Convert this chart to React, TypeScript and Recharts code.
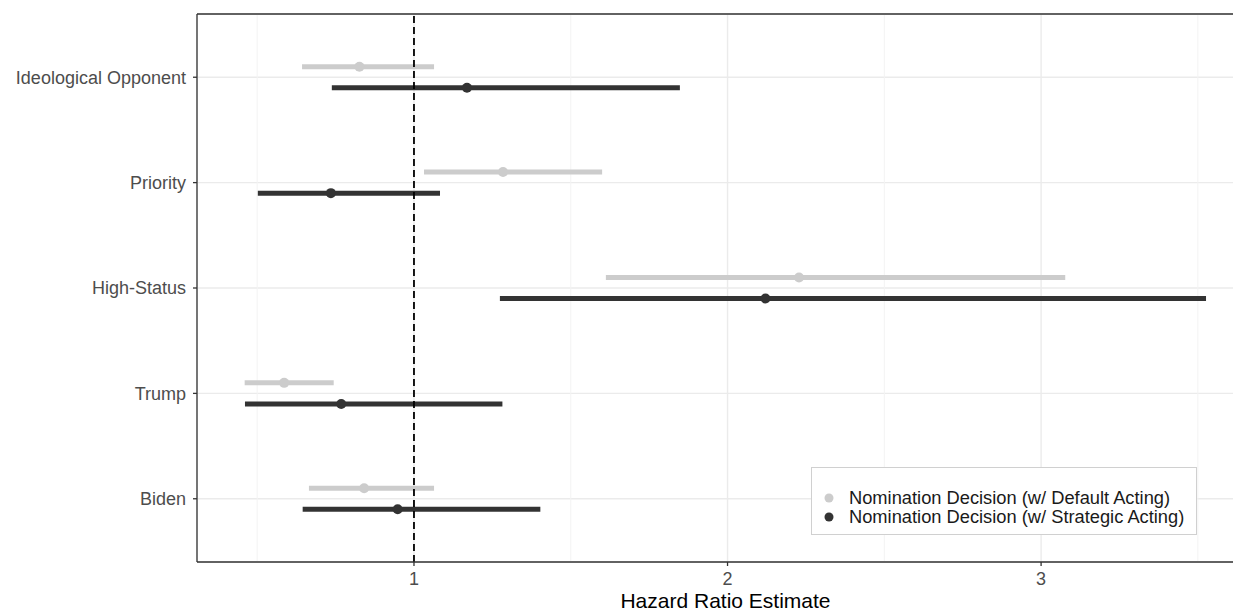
import React from 'react';
import {
  ComposedChart,
  Scatter,
  XAxis,
  YAxis,
  CartesianGrid,
  ReferenceLine,
  ErrorBar,
} from 'recharts';

const categories = ['Ideological Opponent', 'Priority', 'High-Status', 'Trump', 'Biden'];
const defaultEst = [0.826, 1.284, 2.228, 0.586, 0.841];
const defaultLow = [0.643, 1.032, 1.612, 0.46, 0.665];
const defaultHigh = [1.064, 1.6, 3.077, 0.744, 1.064];
const strategicEst = [1.169, 0.735, 2.121, 0.768, 0.948];
const strategicLow = [0.738, 0.502, 1.274, 0.461, 0.645];
const strategicHigh = [1.848, 1.083, 3.526, 1.282, 1.403];
const xTicks = [1, 2, 3];
const xMinorTicks = [0.5, 1.5, 2.5, 3.5];
const seriesNames = [
  'Nomination Decision (w/ Default Acting)',
  'Nomination Decision (w/ Strategic Acting)',
];
const seriesColors = ['#CCCCCC', '#333333'];

const FONT = '"Liberation Sans", Arial, Helvetica, sans-serif';
const n = categories.length;
const yTicks = categories.map((_, i) => n - i);

const build = (est: number[], low: number[], high: number[], offset: number) =>
  categories.map((c, i) => ({
    name: c,
    x: est[i],
    y: n - i + offset,
    err: [est[i] - low[i], high[i] - est[i]],
  }));

const defaultData = build(defaultEst, defaultLow, defaultHigh, 0.1);
const strategicData = build(strategicEst, strategicLow, strategicHigh, -0.1);

const dot = (color: string) => (props: any) =>
  <circle cx={props.cx} cy={props.cy} r={5} fill={color} />;

export default function App() {
  return (
    <div style={{ width: 1233, height: 605, overflow: 'hidden', position: 'relative', fontFamily: FONT }}>
      <ComposedChart
        width={1262}
        height={605}
        margin={{ top: 6, right: 16, bottom: 0, left: 0 }}
        style={{ fontFamily: FONT }}
      >
        <CartesianGrid stroke="#EBEBEB" strokeWidth={1.4} />
        {xMinorTicks.map((v) => (
          <ReferenceLine key={v} x={v} stroke="#F3F3F3" strokeWidth={1} ifOverflow="hidden" />
        ))}
        <XAxis
          type="number"
          dataKey="x"
          domain={[0.308, 3.679]}
          ticks={xTicks}
          allowDataOverflow
          height={51}
          tickSize={4}
          tickMargin={6}
          stroke="#333333"
          tick={{ fill: '#4D4D4D', fontSize: 18, fontFamily: FONT }}
          axisLine={{ stroke: '#333333', strokeWidth: 1.3 }}
          tickLine={{ stroke: '#333333', strokeWidth: 1.3 }}
          label={{
            value: 'Hazard Ratio Estimate',
            position: 'insideBottom',
            offset: 5,
            fill: '#000000',
            fontSize: 21,
            fontFamily: FONT,
          }}
        />
        <YAxis
          type="number"
          dataKey="y"
          domain={[0.4, 5.6]}
          ticks={yTicks}
          allowDataOverflow
          width={189}
          tickSize={4}
          tickMargin={7}
          tickFormatter={(v: number) => categories[n - Math.round(v)]}
          tick={{ fill: '#4D4D4D', fontSize: 18, fontFamily: FONT }}
          axisLine={{ stroke: '#333333', strokeWidth: 1.3 }}
          tickLine={{ stroke: '#333333', strokeWidth: 1.3 }}
        />
        <ReferenceLine y={5.6} stroke="#333333" strokeWidth={1.3} />
        <Scatter
          name={seriesNames[0]}
          data={defaultData}
          fill={seriesColors[0]}
          shape={dot(seriesColors[0])}
          isAnimationActive={false}
        >
          <ErrorBar dataKey="err" direction="x" width={0} stroke={seriesColors[0]} strokeWidth={5} />
        </Scatter>
        <Scatter
          name={seriesNames[1]}
          data={strategicData}
          fill={seriesColors[1]}
          shape={dot(seriesColors[1])}
          isAnimationActive={false}
        >
          <ErrorBar dataKey="err" direction="x" width={0} stroke={seriesColors[1]} strokeWidth={5} />
        </Scatter>
        <ReferenceLine x={1} stroke="#000000" strokeWidth={1.8} strokeDasharray="7 4" />
      </ComposedChart>
      <div
        style={{
          position: 'absolute',
          left: 803,
          top: 459,
          width: 386,
          height: 68,
          boxSizing: 'border-box',
          border: '1.5px solid #D0D0D0',
          background: '#FFFFFF',
        }}
      >
        <svg width={383} height={65} style={{ position: 'absolute', left: 0, top: 0 }}>
          {seriesNames.map((name, i) => (
            <g key={name}>
              <circle cx={17} cy={30 + i * 19} r={4.5} fill={seriesColors[i]} />
              <text
                x={37}
                y={30 + i * 19 + 6.3}
                fontSize={18.3}
                fill="#1A1A1A"
                fontFamily={FONT}
              >
                {name}
              </text>
            </g>
          ))}
        </svg>
      </div>
    </div>
  );
}
